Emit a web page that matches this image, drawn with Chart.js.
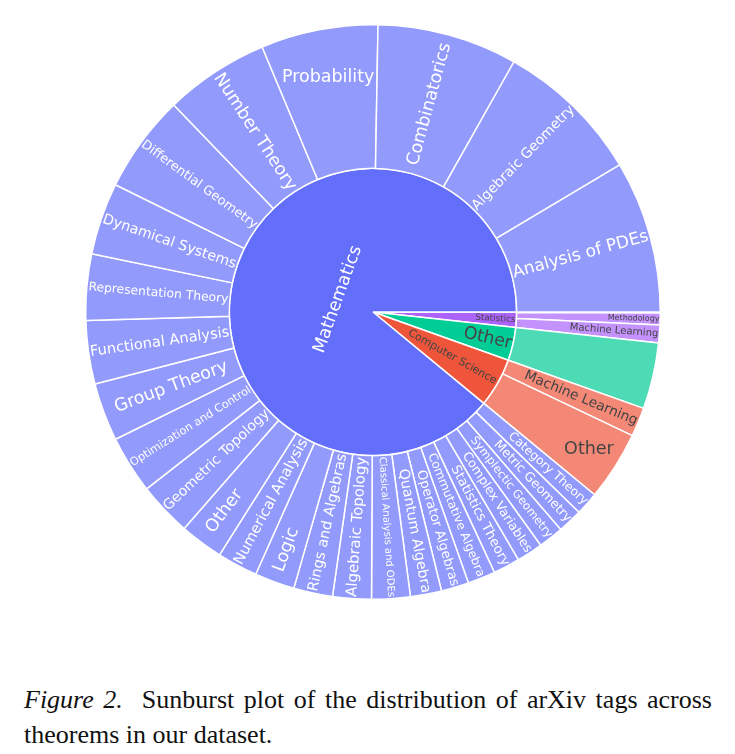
<!DOCTYPE html>
<html>
<head>
<meta charset="utf-8">
<script src="https://cdn.jsdelivr.net/npm/chart.js@4.4.1/dist/chart.umd.min.js"></script>
<style>
  html, body { margin: 0; padding: 0; background: #fff; }
  body { width: 735px; height: 754px; position: relative; overflow: hidden; }
  #wrap { position: absolute; left: 85px; top: 24px; width: 576px; height: 576px; }
  #caption {
    position: absolute; left: 24px; top: 682px; width: 688px;
    font-family: "Liberation Serif", "Times New Roman", serif;
    font-size: 26px; line-height: 35px; color: #111;
    text-align: justify;
  }
</style>
</head>
<body>
<div id="wrap"><canvas id="sunburst"></canvas></div>
<div id="caption"><i>Figure 2.</i>&nbsp; Sunburst plot of the distribution of arXiv tags across theorems in our dataset.</div>
<script>
// top level of the sunburst (inner ring), counter-clockwise from 3 o'clock
const parentLabels = ["Mathematics", "Computer Science", "Other", "Statistics"];
const parentColors = ["#636efa", "#ef553b", "#00cc96", "#ab63fa"];

// second level (outer ring), one list per parent
const mathTags = [
    "Analysis of PDEs", "Algebraic Geometry", "Combinatorics", "Probability",
    "Number Theory", "Differential Geometry", "Dynamical Systems", "Representation Theory",
    "Functional Analysis", "Group Theory", "Optimization and Control", "Geometric Topology",
    "Other", "Numerical Analysis", "Logic", "Rings and Algebras", "Algebraic Topology",
    "Classical Analysis and ODEs", "Quantum Algebra", "Operator Algebras",
    "Commutative Algebra", "Statistics Theory", "Complex Variables",
    "Symplectic Geometry", "Metric Geometry", "Category Theory",
];
const mathCounts = [
    308, 298, 284, 237, 212, 198, 146, 134, 128, 118, 117, 109, 88,
    82, 81, 79, 78, 78, 63, 56, 56, 54, 53, 51, 50, 47,
];
const csTags = ["Other", "Machine Learning"];
const csCounts = [140, 59];
const otherTags = [""];
const otherCounts = [134];
const statTags = ["Machine Learning", "Methodology", ""];
const statCounts = [36, 24, 2];

const childGroups = [
    [mathTags, mathCounts],
    [csTags, csCounts],
    [otherTags, otherCounts],
    [statTags, statCounts],
];

const LEAF_OPACITY = 0.7;
const MAX_FONT = 17.5;
const FONT = '"DejaVu Sans", Verdana, sans-serif';
const TEXTPAD = 3;

function fade(hex, op) {
    const n = parseInt(hex.slice(1), 16);
    const ch = [(n >> 16) & 255, (n >> 8) & 255, n & 255].map(c => Math.round(c * op + 255 * (1 - op)));
    return "rgb(" + ch.join(",") + ")";
}

// plotly picks dark text on light fills, white on dark ones
function textColorFor(hex) {
    const n = parseInt(hex.slice(1), 16);
    const b = (((n >> 16) & 255) * 299 + ((n >> 8) & 255) * 587 + (n & 255) * 114) / 1000;
    return b < 128 ? "#ffffff" : "#444444";
}

// build rings in plotly order, then reverse since Chart.js goes clockwise
let outerTags = [], outerValues = [], outerColors = [], outerText = [];
let innerValues = [], innerColors = [], innerText = [];
childGroups.forEach(([tags, counts], i) => {
    tags.forEach((t, j) => {
        outerTags.push(t);
        outerValues.push(counts[j]);
        outerColors.push(fade(parentColors[i], LEAF_OPACITY));
        outerText.push(textColorFor(parentColors[i]));
    });
    innerValues.push(counts.reduce((a, b) => a + b, 0));
    innerColors.push(parentColors[i]);
    innerText.push(textColorFor(parentColors[i]));
});
const innerTags = parentLabels.slice().reverse();
[outerTags, outerValues, outerColors, outerText, innerValues, innerColors, innerText].forEach(a => a.reverse());

function angleDelta(a, b) {
    const d = b - a + Math.PI;
    return ((d % (2 * Math.PI)) + 2 * Math.PI) % (2 * Math.PI) - Math.PI;
}

function calcMaxHalfSize(a, halfAngle, r, ring) {
    const q = a + 1 / (2 * Math.tan(halfAngle));
    return r * Math.min(
        1 / (Math.sqrt(q * q + 0.5) + q),
        ring / (Math.sqrt(a * a + ring / 2) + a)
    );
}

function uprightAngle(t) {
    while (t > Math.PI / 2) t -= Math.PI;
    while (t <= -Math.PI / 2) t += Math.PI;
    return t;
}

// same fitting rules as plotly's "auto" inside text orientation
function fitLabel(arc, w, h) {
    const r1 = arc.outerRadius, r0 = arc.innerRadius;
    const mid = (arc.startAngle + arc.endAngle) / 2;
    const half = 0.5 * Math.min(angleDelta(arc.startAngle, arc.endAngle) || Math.PI, Math.PI);
    const ring = 1 - r0 / r1;
    const rIns = Math.max(0, Math.min(1 / (1 + 1 / Math.sin(half)), ring / 2));
    const all = [];

    const horiz = { scale: rIns * r1 * 2 / Math.sqrt(w * w + h * h), rCenter: 1 - rIns, rotate: 0 };
    if (horiz.scale >= 1) return Object.assign(horiz, { mid, r1 });
    all.push(horiz);

    const rr = Math.max(0, r1 - 2 * TEXTPAD);
    let a = w / h;
    let s = calcMaxHalfSize(a, half, rr, ring);
    all.push({ scale: 2 * s / h, rCenter: Math.cos(s / rr) - a * s / rr, rotate: uprightAngle(mid) });

    a = h / w;
    s = calcMaxHalfSize(a, half, rr, ring);
    all.push({ scale: 2 * s / w, rCenter: Math.cos(s / rr) - a * s / rr, rotate: uprightAngle(mid + Math.PI / 2) });

    let best = all[0];
    all.forEach(t => { if (t.scale > best.scale) best = t; });
    return Object.assign(best, { mid, r1 });
}

const sliceLabels = {
    id: "sliceLabels",
    afterDatasetsDraw(chart) {
        const ctx = chart.ctx;
        chart.data.datasets.forEach((ds, i) => {
            const meta = chart.getDatasetMeta(i);
            meta.data.forEach((arc, j) => {
                const label = ds.tags[j];
                if (!label) return;
                ctx.save();
                ctx.font = MAX_FONT + "px " + FONT;
                const w = ctx.measureText(label).width;
                const h = MAX_FONT * 1.2;
                const t = fitLabel(arc, w, h);
                const size = MAX_FONT * Math.min(1, t.scale);
                const r = t.rCenter * t.r1;
                ctx.translate(arc.x + r * Math.cos(t.mid), arc.y + r * Math.sin(t.mid));
                ctx.rotate(t.rotate);
                ctx.font = size + "px " + FONT;
                ctx.fillStyle = ds.textColors[j];
                ctx.textAlign = "center";
                ctx.textBaseline = "middle";
                ctx.fillText(label, 0, 0);
                ctx.restore();
            });
        });
    }
};

new Chart(document.getElementById("sunburst"), {
    type: "doughnut",
    data: {
        labels: outerTags,
        datasets: [
            {
                data: outerValues,
                tags: outerTags,
                textColors: outerText,
                backgroundColor: outerColors,
                borderColor: "#ffffff",
                borderWidth: 1.5,
            },
            {
                data: innerValues,
                tags: innerTags,
                textColors: innerText,
                backgroundColor: innerColors,
                borderColor: "#ffffff",
                borderWidth: 1.5,
            },
        ],
    },
    options: {
        responsive: true,
        maintainAspectRatio: false,
        animation: false,
        events: [],
        cutout: 0,
        rotation: 90,
        layout: { padding: 0 },
        plugins: {
            legend: { display: false },
            tooltip: { enabled: false },
        },
    },
    plugins: [sliceLabels],
});
</script>
</body>
</html>
